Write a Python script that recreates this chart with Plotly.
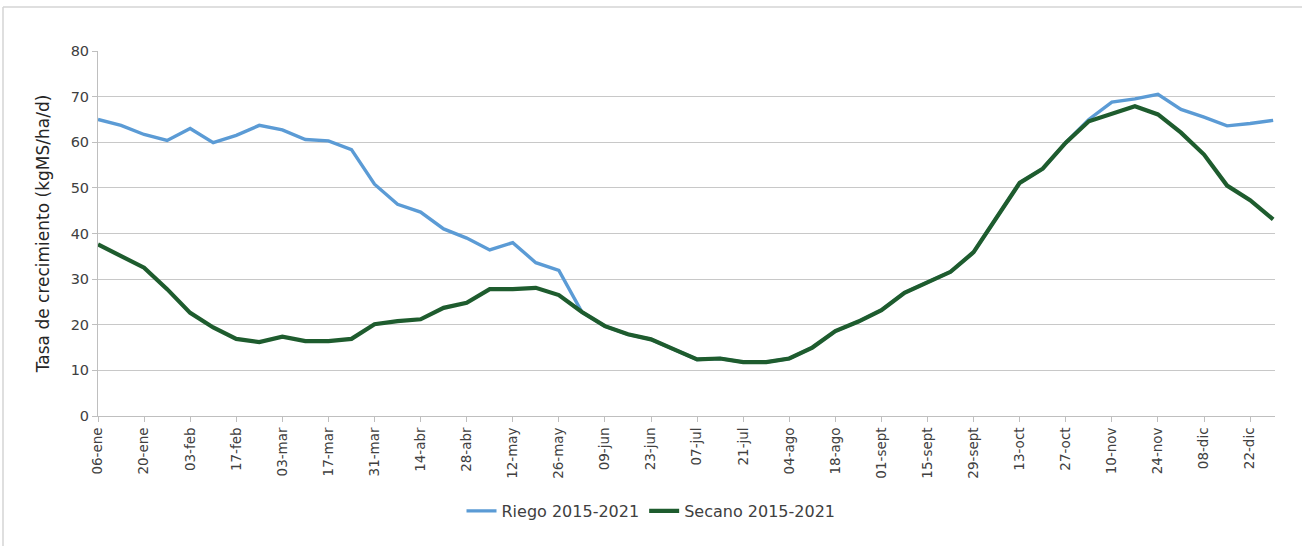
import plotly.graph_objects as go

weeks = ["06-ene", "13-ene", "20-ene", "27-ene", "03-feb", "10-feb", "17-feb", "24-feb",
         "03-mar", "10-mar", "17-mar", "24-mar", "31-mar", "07-abr", "14-abr", "21-abr",
         "28-abr", "05-may", "12-may", "19-may", "26-may", "02-jun", "09-jun", "16-jun",
         "23-jun", "30-jun", "07-jul", "14-jul", "21-jul", "28-jul", "04-ago", "11-ago",
         "18-ago", "25-ago", "01-sept", "08-sept", "15-sept", "22-sept", "29-sept", "06-oct",
         "13-oct", "20-oct", "27-oct", "03-nov", "10-nov", "17-nov", "24-nov", "01-dic",
         "08-dic", "15-dic", "22-dic", "29-dic"]

riego = [65.0, 63.7, 61.7, 60.4, 63.0, 59.9, 61.5, 63.7, 62.7, 60.6, 60.3, 58.4,
         50.8, 46.4, 44.7, 41.0, 39.0, 36.4, 38.0, 33.6, 31.9, 22.8, 19.7, 17.9,
         16.8, 14.6, 12.4, 12.6, 11.8, 11.8, 12.6, 15.0, 18.6, 20.7, 23.2, 27.0,
         29.4, 31.6, 35.9, 43.5, 51.1, 54.2, 59.9, 65.0, 68.8, 69.5, 70.5, 67.2,
         65.5, 63.6, 64.1, 64.8]

secano = [37.6, 35.1, 32.5, 27.8, 22.6, 19.4, 16.9, 16.2, 17.4, 16.4, 16.4, 16.9,
          20.1, 20.8, 21.2, 23.7, 24.8, 27.8, 27.8, 28.1, 26.5, 22.8, 19.7, 17.9,
          16.8, 14.6, 12.4, 12.6, 11.8, 11.8, 12.6, 15.0, 18.6, 20.7, 23.2, 27.0,
          29.4, 31.6, 35.9, 43.5, 51.1, 54.2, 59.9, 64.6, 66.3, 67.9, 66.1, 62.1,
          57.3, 50.5, 47.3, 43.1]

tick_labels = weeks[::2]

series_names = ["Riego 2015-2021", "Secano 2015-2021"]
y_title = "Tasa de crecimiento (kgMS/ha/d)"

W, H = 1302, 546
L, R, T, B = 98, 27, 51, 130

fig = go.Figure()
fig.add_trace(go.Scatter(x=weeks, y=riego, mode="lines", name=series_names[0],
                         line=dict(color="#5b9bd5", width=3.4)))
fig.add_trace(go.Scatter(x=weeks, y=secano, mode="lines", name=series_names[1],
                         line=dict(color="#1e5c2e", width=4.2)))

pw = W - L - R
ph = H - T - B
def px_x(p):
    return (p - L) / pw
def px_y(p):
    return (H - B - p) / ph

fig.update_layout(
    width=W, height=H,
    margin=dict(l=L, r=R, t=T, b=B),
    paper_bgcolor="white", plot_bgcolor="white",
    font=dict(family="DejaVu Sans, Verdana, sans-serif", color="#404040", size=13),
    showlegend=True,
    legend=dict(orientation="h", xref="container", yref="container",
                x=0.5, xanchor="center", y=1 - 511 / H, yanchor="middle",
                font=dict(size=16, color="#404040",
                          family="DejaVu Sans, Verdana, sans-serif"),
                itemwidth=30, traceorder="normal"),
    xaxis=dict(type="category", categoryorder="array", categoryarray=weeks,
               tickmode="array", tickvals=tick_labels, ticktext=tick_labels,
               tickangle=-90, range=[0, 51.08],
               showgrid=False, showline=True, linecolor="#bfbfbf", linewidth=1,
               ticks="outside", ticklen=5, tickcolor="#bfbfbf",
               tickfont=dict(size=13.5, color="#404040"), zeroline=False),
    yaxis=dict(range=[0, 80], dtick=10, tick0=0,
               showgrid=True, gridcolor="#c8c8c8", gridwidth=1,
               showline=True, linecolor="#bfbfbf", linewidth=1,
               ticks="outside", ticklen=5, tickcolor="#bfbfbf",
               tickfont=dict(size=14.5, color="#404040"), zeroline=False,
               title=dict(text=y_title, font=dict(size=17, color="#262626"),
                          standoff=16)),
    shapes=[
        dict(type="line", xref="paper", yref="paper",
             x0=px_x(3), x1=px_x(W + 5), y0=px_y(7), y1=px_y(7),
             line=dict(color="#d4d4d4", width=1.5)),
        dict(type="line", xref="paper", yref="paper",
             x0=px_x(3), x1=px_x(3), y0=px_y(7), y1=px_y(H + 5),
             line=dict(color="#d4d4d4", width=1.5)),
    ],
)

fig.write_html("out.html", config={"displayModeBar": False},
               post_script="document.body.style.margin='0';")
